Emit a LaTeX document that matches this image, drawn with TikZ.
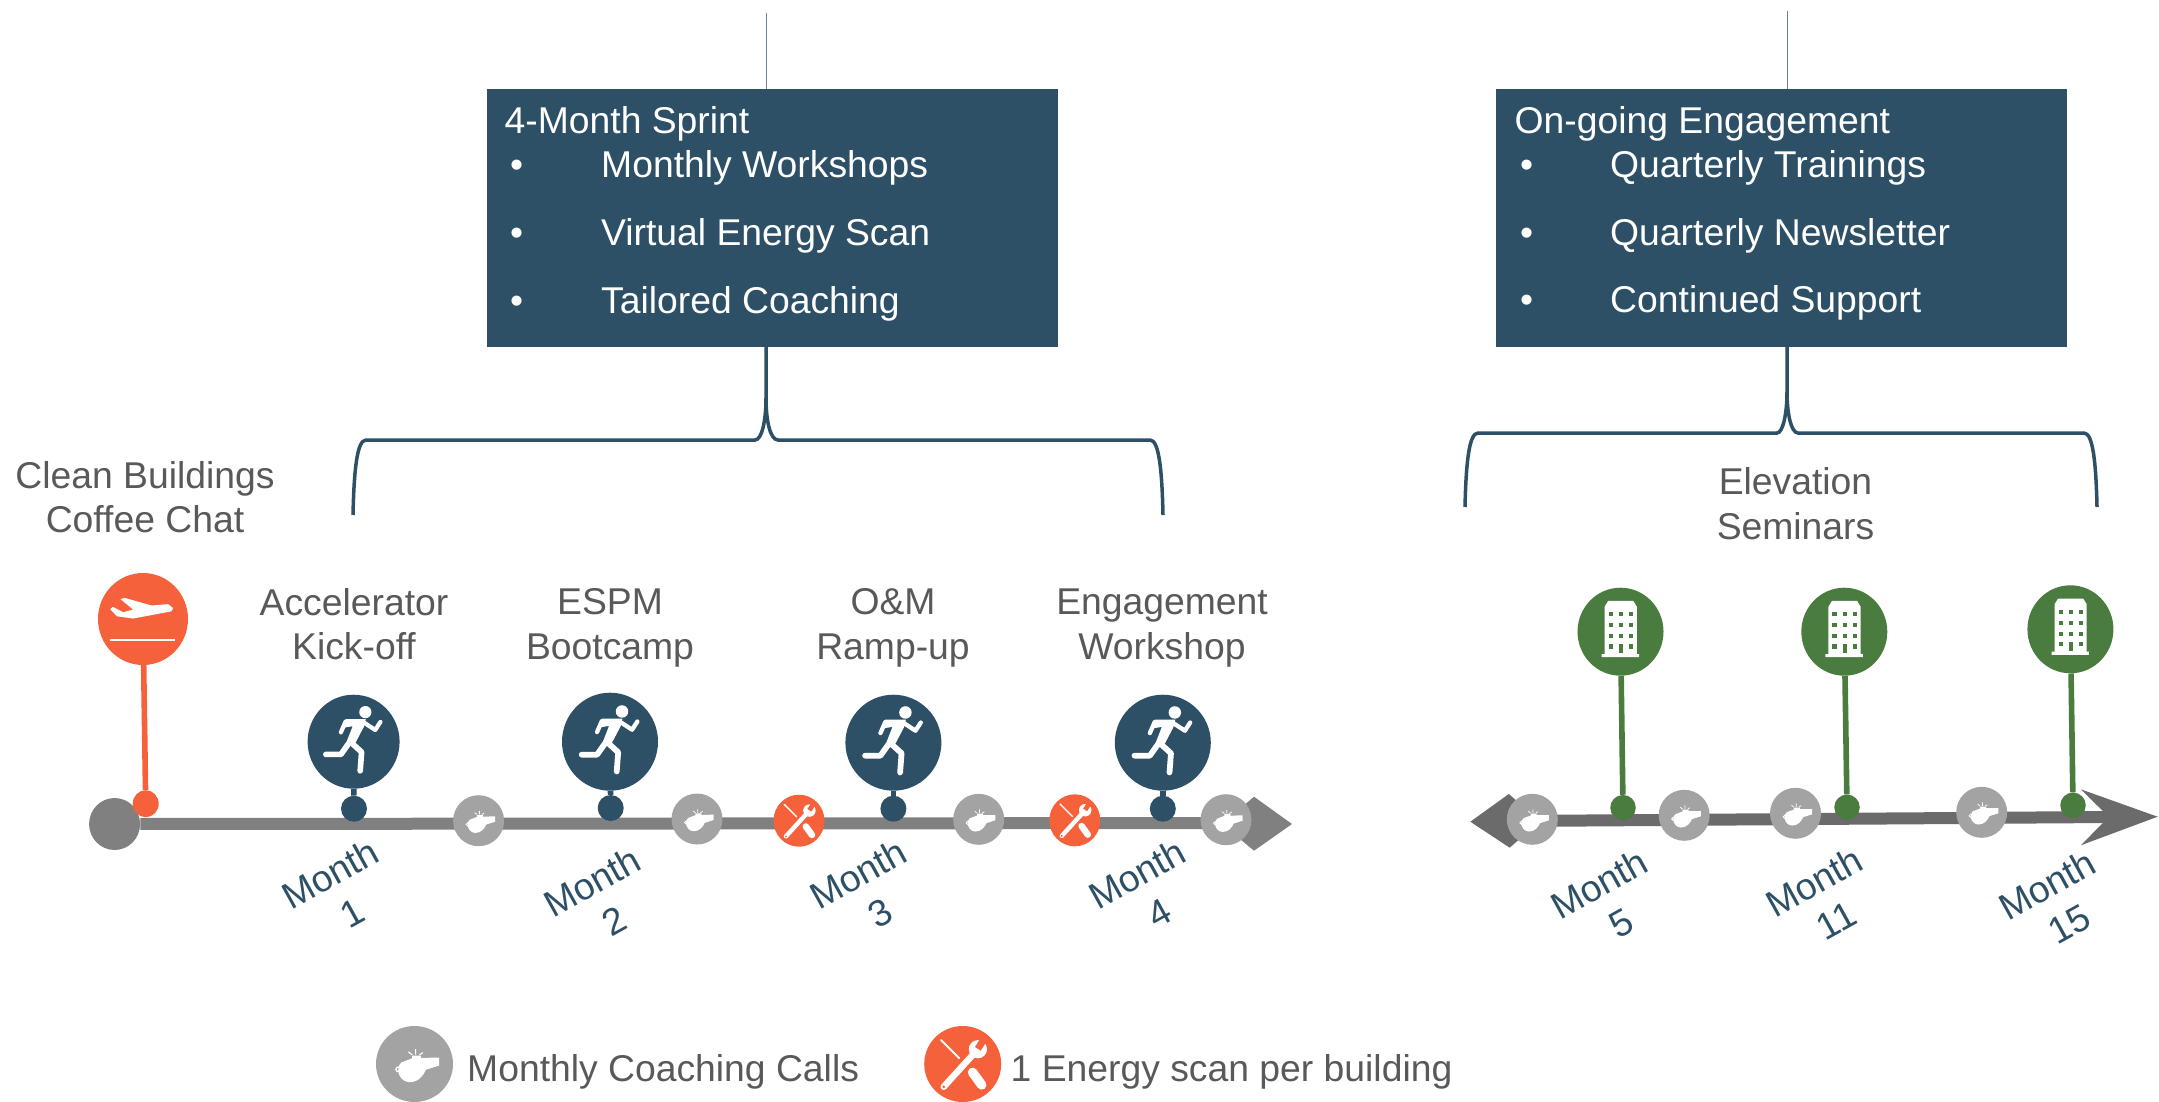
\documentclass[tikz,border=0pt]{standalone}
\usepackage{fontspec}
\setmainfont{Liberation Sans}
\usetikzlibrary{shapes.geometric}
\definecolor{navy}{HTML}{2E5066}
\definecolor{tang}{HTML}{F4613A}
\definecolor{leaf}{HTML}{4A7C3F}
\definecolor{labelgray}{HTML}{595959}
\definecolor{axisA}{HTML}{808080}
\definecolor{axisB}{HTML}{6B6B6B}
\definecolor{callgray}{HTML}{A3A3A3}
\tikzset{
  disc/.style n args={3}{ellipse,fill=#1,draw=none,inner sep=0pt,minimum width=#2pt,minimum height=#3pt},
  stemline/.style={line width=5.6pt,draw=#1},
  axisline/.style={line width=12pt,draw=#1},
  panel/.style={fill=navy,draw=none,inner sep=0pt,anchor=north west},
  paneltext/.style={text=white,anchor=base west,inner sep=0pt},
  label/.style={text=labelgray,align=center,inner sep=0pt},
  legendtext/.style={text=labelgray,anchor=base west,inner sep=0pt},
  monthlabel/.style={text=navy,align=center,inner sep=0pt,rotate=29},
  bracket/.style={draw=navy,line width=3.5pt},
  hairline/.style={draw=navy!70,line width=1pt},
  pics/whistleicon/.style={code={
    \begin{scope}[scale=#1]
      \fill[white] (-.35,-.04) -- (-.06,-.15) -- (-.06,-.22) -- (.17,-.22) -- (.17,-.16) -- (.65,-.17) -- (.65,.04) -- (.30,.15)
        .. controls (.24,.30) and (.10,.48) .. (-.13,.48)
        .. controls (-.30,.48) and (-.43,.32) .. (-.43,.16)
        .. controls (-.43,.08) and (-.40,0) .. (-.35,-.04) -- cycle;
      \draw[white,line width=#1*0.035pt] (-.43,.14) circle (.06);
      \draw[white,line width=#1*0.03pt] (.03,-.39) -- (.03,-.25) (-.16,-.32) -- (-.06,-.24) (.22,-.30) -- (.13,-.24);
    \end{scope}}},
  pics/toolicon/.style={code={
    \begin{scope}[scale=#1]
      \draw[white,line width=#1*0.17pt,line cap=round] (-.5,.6) -- (.30,-.28);
      \fill[white] (.40,-.39) circle (.24);
      \fill[tang] (.476,-.352) -- (.324,-.448) -- (.534,-.788) -- (.686,-.692) -- cycle;
      \fill[tang] (-.5,.6) circle (.04);
      \draw[white,line width=#1*0.05pt,line cap=round] (-.57,-.63) -- (-.09,-.15);
      \draw[white,line width=#1*0.25pt,line cap=round] (.26,.22) -- (.50,.55);
    \end{scope}}},
  pics/runnericon/.style={code={
    \begin{scope}[scale=#1]
      \fill[white] (.25,-.63) circle (.13);
      \fill[white] (-.17,-.48) -- (.26,-.48) -- (.22,-.32) -- (.02,.06) -- (-.14,-.02) -- (-.02,-.33) -- (-.2,-.3) -- cycle;
      \draw[white,line width=#1*0.09pt,line cap=round,line join=round]
        (-.17,-.43) -- (-.27,-.2)
        (.2,-.42) -- (.46,-.25) -- (.57,-.42);
      \draw[white,line width=#1*0.12pt,line cap=round,line join=round]
        (-.05,.02) -- (.17,.22) -- (.14,.62)
        (-.05,-.04) -- (-.27,.27) -- (-.59,.27);
    \end{scope}}},
  pics/planeicon/.style={code={
    \begin{scope}[scale=#1]
      \fill[white] (.67,-.24) -- (.56,-.33) -- (.19,-.30) -- (-.41,-.47) -- (-.5,-.44)
        -- (-.22,-.21) -- (-.44,-.15) -- (-.67,-.27) -- (-.73,-.22) -- (-.58,-.06) -- (-.22,-.01)
        -- (.63,-.17) -- cycle;
      \draw[white,line width=#1*0.04pt] (-.74,.46) -- (.70,.46);
    \end{scope}}},
  pics/buildingicon/.style={code={
    \begin{scope}[scale=#1]
      \fill[white] (-.28,-.70) -- (.29,-.70) -- (.37,-.57) -- (.37,.51) -- (.42,.51) -- (.42,.58)
        -- (-.43,.58) -- (-.43,.51) -- (-.36,.51) -- (-.36,-.57) -- cycle;
      \foreach \yy in {-.40,-.15,.10,.34}{
        \fill[leaf] (-.27,\yy-.05) rectangle (-.17,\yy+.05);
        \fill[leaf] (.19,\yy-.05) rectangle (.29,\yy+.05);
      }
      \foreach \yy in {-.40,-.15,.10}{\fill[leaf] (-.04,\yy-.05) rectangle (.06,\yy+.05);}
      \fill[leaf] (-.04,.29) rectangle (.06,.49);
    \end{scope}}}
}
\begin{document}
\begin{tikzpicture}[x=1pt,y=-1pt,every node/.append style={font=\fontsize{37.3}{44.5}\selectfont}]
\useasboundingbox (0,0) rectangle (2159,1102);

% ---- panels and brackets
\coordinate (t1) at (766,13);
\coordinate (j1) at (766,347);
\coordinate (t2) at (1787,11);
\coordinate (j2) at (1787,347);
\coordinate (b1l) at (353,515);
\coordinate (b1r) at (1163,515);
\coordinate (b2l) at (1465,507);
\coordinate (b2r) at (2097,507);
\draw[hairline] (t1) -- (j1);
\draw[hairline] (t2) -- (j2);
\node[panel,minimum width=571pt,minimum height=258pt] (box1) at (487,89) {};
\node[panel,minimum width=571pt,minimum height=258pt] (box2) at (1496,89) {};
\draw[bracket] (b1l) .. controls (354,470) and (357,440) .. (366,440) -- (755,440)
  .. controls (762,440) and (766,420) .. (766,398) -- (j1);
\draw[bracket] (b1r) .. controls (1162,470) and (1159,440) .. (1150,440) -- (778,440)
  .. controls (770,440) and (766,420) .. (766,398);
\draw[bracket] (b2l) .. controls (1466,463) and (1469,433) .. (1478,433) -- (1777,433)
  .. controls (1783,433) and (1787,413) .. (1787,392) -- (j2);
\draw[bracket] (b2r) .. controls (2096,463) and (2093,433) .. (2084,433) -- (1798,433)
  .. controls (1791,433) and (1787,413) .. (1787,392);

\node[paneltext] (h1) at (504.5,134) {4-Month Sprint};
\node[paneltext] (p1b1) at (510,178) {•};
\node[paneltext] (p1a) at (601,178) {Monthly Workshops};
\node[paneltext] (p1b2) at (510,245.5) {•};
\node[paneltext] (p1c) at (601,245.5) {Virtual Energy Scan};
\node[paneltext] (p1b3) at (510,313) {•};
\node[paneltext] (p1d) at (601,313) {Tailored Coaching};
\node[paneltext] (h2) at (1514.5,134) {On-going Engagement};
\node[paneltext] (p2b1) at (1520,178) {•};
\node[paneltext] (p2a) at (1610,178) {Quarterly Trainings};
\node[paneltext] (p2b2) at (1520,245) {•};
\node[paneltext] (p2c) at (1610,245) {Quarterly Newsletter};
\node[paneltext] (p2b3) at (1520,312) {•};
\node[paneltext] (p2d) at (1610,312) {Continued Support};

% ---- labels
\node[label] (l0) at (145,497) {Clean Buildings\\Coffee Chat};
\node[label] (l1) at (354,624) {Accelerator\\Kick-off};
\node[label] (l2) at (610,628) {ESPM\\Bootcamp};
\node[label] (l3) at (893,628) {O\&M\\Ramp-up};
\node[label] (l4) at (1162,628) {Engagement\\Workshop};
\node[label] (l5) at (1795.5,503.5) {Elevation\\Seminars};

% ---- left axis
\node[disc={axisA}{51}{52}] (start) at (114.6,824) {};
\coordinate (endA) at (1260,823);
\draw[axisline=axisA] (start) -- (endA);
\fill[axisA] (1292,824) -- (1254,796.7) -- (1222,824) -- (1254,850.7) -- cycle;

% ---- right axis
\coordinate (startB) at (1510,821);
\coordinate (endB) at (2110,817);
\draw[axisline=axisB] (startB) -- (endB);
\fill[axisB] (1470.3,821.7) -- (1508.8,794) -- (1540,821) -- (1509.7,847.7) -- cycle;
\fill[axisB] (2157.6,816.7) -- (2080.8,789.3) -- (2102.5,810.7) -- (2102.5,823.3) -- (2080.8,845.3) -- cycle;

% ---- plane
\node[disc={tang}{90}{92}] (plane) at (143,619) {};
\node[disc={tang}{26}{27}] (planedot) at (145.7,803.7) {};
\draw[stemline=tang] (plane) -- (planedot);
\pic at (plane) {planeicon=45};

% ---- runners
\node[disc={navy}{92}{94}] (r1) at (353.6,741.7) {};
\node[disc={navy}{26}{26}] (rd1) at (354,808.7) {};
\node[disc={navy}{96}{98}] (r2) at (610,741.7) {};
\node[disc={navy}{26}{26}] (rd2) at (610.7,808) {};
\node[disc={navy}{96}{96}] (r3) at (893.4,742.7) {};
\node[disc={navy}{26}{26}] (rd3) at (893.4,808.7) {};
\node[disc={navy}{96}{96}] (r4) at (1162.8,742.7) {};
\node[disc={navy}{26}{26}] (rd4) at (1162.8,808.7) {};
\draw[stemline=navy] (r1) -- (rd1);
\draw[stemline=navy] (r2) -- (rd2);
\draw[stemline=navy] (r3) -- (rd3);
\draw[stemline=navy] (r4) -- (rd4);
\pic at (r1) {runnericon=47};
\pic at (r2) {runnericon=48};
\pic at (r3) {runnericon=48};
\pic at (r4) {runnericon=48};

% ---- buildings
\node[disc={leaf}{86}{88}] (e1) at (1620.5,631.7) {};
\node[disc={leaf}{25.5}{25.5}] (ed1) at (1623,807.7) {};
\node[disc={leaf}{86}{88}] (e2) at (1844.3,631.7) {};
\node[disc={leaf}{25.5}{25.5}] (ed2) at (1847,807.3) {};
\node[disc={leaf}{86}{88}] (e3) at (2070.4,629.3) {};
\node[disc={leaf}{25.5}{25.5}] (ed3) at (2073,805.3) {};
\draw[stemline=leaf] (e1) -- (ed1);
\draw[stemline=leaf] (e2) -- (ed2);
\draw[stemline=leaf] (e3) -- (ed3);
\pic at (e1) {buildingicon=44};
\pic at (e2) {buildingicon=44};
\pic at (e3) {buildingicon=44};

% ---- coaching calls
\foreach \nm/\xx/\yy in {c1/478.6/820.7,c2/697/819,c3/978.7/819.3,c4/1226/819.7,
                         c5/1532.3/819.3,c6/1684.2/815.3,c7/1795.5/813.3,c8/1981.7/812.3}{
  \node[disc={callgray}{51}{51}] (\nm) at (\xx,\yy) {};
  \pic at (\nm) {whistleicon=25.5};
}

% ---- energy scans
\node[disc={tang}{51}{52}] (s1) at (799,820.7) {};
\node[disc={tang}{51}{52}] (s2) at (1074.8,820.3) {};
\pic at (s1) {toolicon=26};
\pic at (s2) {toolicon=26};

% ---- months
\node[monthlabel] (m1) at (341,893) {Month\\1};
\node[monthlabel] (m2) at (603,901) {Month\\2};
\node[monthlabel] (m3) at (869,893) {Month\\3};
\node[monthlabel] (m4) at (1148,893) {Month\\4};
\node[monthlabel] (m5) at (1610,903) {Month\\5};
\node[monthlabel] (m6) at (1825,901) {Month\\11};
\node[monthlabel] (m7) at (2058,904) {Month\\15};

% ---- legend
\node[disc={callgray}{77}{76}] (lw) at (414.5,1064) {};
\pic at (lw) {whistleicon=38};
\node[legendtext] (lwt) at (467,1081) {Monthly Coaching Calls};
\node[disc={tang}{77}{76}] (lt) at (962.7,1064) {};
\pic at (lt) {toolicon=38};
\node[legendtext] (ltt) at (1010.5,1081) {1 Energy scan per building};
\end{tikzpicture}
\end{document}
